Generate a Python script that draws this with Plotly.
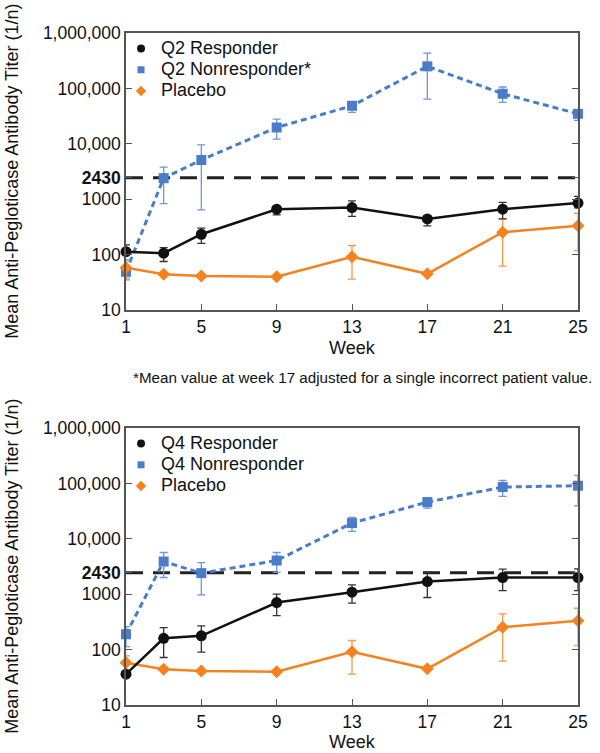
import plotly.graph_objects as go

# ---------------- data ----------------
weeks = [1, 3, 5, 9, 13, 17, 21, 25]
x_ticks = [1, 5, 9, 13, 17, 21, 25]
y_tickvals = [10, 100, 1000, 2430, 10000, 100000, 1000000]
y_ticktext = ["10", "100", "1000", "<b>2430</b>", "10,000", "100,000", "1,000,000"]
threshold = 2430

# Top panel (Q2)
q2_resp = [113, 106, 233, 660, 707, 441, 660, 850]
q2_resp_hi = [150, 134, 300, 700, 930, 500, 880, 1120]
q2_resp_lo = [100, 75, 160, 520, 490, 330, 440, 700]

q2_non = [49, 2400, 5100, 19700, 48600, 250000, 80000, 34800]
q2_non_hi = [80, 3800, 9600, 27900, 56000, 435000, 106000, 40000]
q2_non_lo = [35, 830, 640, 12100, 37000, 64000, 56000, 26400]

# Bottom panel (Q4)
q4_resp = [36, 160, 177, 706, 1086, 1693, 2000, 2000]
q4_resp_hi = [36, 250, 268, 1000, 1475, 2500, 2830, 2870]
q4_resp_lo = [36, 72, 90, 411, 688, 871, 1164, 1164]

q4_non = [189, 3890, 2400, 4060, 19200, 46000, 85900, 90800]
q4_non_hi = [260, 5660, 3730, 5660, 24300, 54300, 113000, 139700]
q4_non_lo = [113, 2000, 973, 2470, 13600, 35800, 58200, 39400]

# Placebo (same in both panels)
placebo = [58, 44, 41, 40, 91, 45, 254, 330]
placebo_hi = [77, 44, 41, 40, 146, 45, 441, 558]
placebo_lo = [38, 44, 41, 40, 36, 45, 62, 118]

panels = [
    dict(resp=(q2_resp, q2_resp_hi, q2_resp_lo), non=(q2_non, q2_non_hi, q2_non_lo),
         names=("Q2 Responder", "Q2 Nonresponder*", "Placebo"), xa="x", ya="y", legend="legend"),
    dict(resp=(q4_resp, q4_resp_hi, q4_resp_lo), non=(q4_non, q4_non_hi, q4_non_lo),
         names=("Q4 Responder", "Q4 Nonresponder", "Placebo"), xa="x2", ya="y2", legend="legend2"),
]

BLACK = "#111111"
BLUE = "#4a7cc9"
BLUE_ERR = "#6e97d8"
ORANGE = "#f5821f"
ORANGE_ERR = "#f59a45"
FONT = "Liberation Sans, Arial, sans-serif"

fig = go.Figure()


def err(mean, hi, lo, color):
    return dict(type="data", symmetric=False,
                array=[h - m for h, m in zip(hi, mean)],
                arrayminus=[m - l for m, l in zip(mean, lo)],
                color=color, thickness=1.3, width=4)


for p in panels:
    xa, ya = p["xa"], p["ya"]
    # threshold dashed line
    fig.add_trace(go.Scatter(x=[weeks[0], weeks[-1]], y=[threshold, threshold], mode="lines",
                             line=dict(color="#222222", width=3, dash="17px,10px"),
                             xaxis=xa, yaxis=ya, showlegend=False, hoverinfo="skip"))
    m, hi, lo = p["non"]
    fig.add_trace(go.Scatter(x=weeks, y=m, mode="lines+markers",
                             line=dict(color=BLUE, width=3, dash="6px,4px"),
                             marker=dict(symbol="square", size=10, color=BLUE),
                             error_y=err(m, hi, lo, BLUE_ERR), cliponaxis=False,
                             xaxis=xa, yaxis=ya, showlegend=False))
    fig.add_trace(go.Scatter(x=weeks, y=placebo, mode="lines+markers",
                             line=dict(color=ORANGE, width=2.5),
                             marker=dict(symbol="diamond", size=10, color=ORANGE),
                             error_y=err(placebo, placebo_hi, placebo_lo, ORANGE_ERR), cliponaxis=False,
                             xaxis=xa, yaxis=ya, showlegend=False))
    m, hi, lo = p["resp"]
    fig.add_trace(go.Scatter(x=weeks, y=m, mode="lines+markers",
                             line=dict(color=BLACK, width=2.5),
                             marker=dict(symbol="circle", size=11, color=BLACK),
                             error_y=err(m, hi, lo, "#333333"), cliponaxis=False,
                             xaxis=xa, yaxis=ya, showlegend=False))
    # legend entries (marker only)
    for name, sym, col, sz in zip(p["names"], ["circle", "square", "diamond"], [BLACK, BLUE, ORANGE], [8, 7, 8]):
        fig.add_trace(go.Scatter(x=[None], y=[None], mode="markers",
                                 name="<span style='font-size:18px'>" + name + "</span>",
                                 marker=dict(symbol=sym, size=sz, color=col),
                                 xaxis=xa, yaxis=ya, legend=p["legend"]))

# layout geometry (pixels)
W, H = 600, 753
ML, MR, MT, MB = 126, 19, 33, 48
PH = H - MT - MB
PW = W - ML - MR


def py(p):
    return (H - MB - p) / PH


def px(p):
    return (p - ML) / PW


axis_common = dict(showline=True, linecolor="#555555", linewidth=1.5, mirror=True,
                   ticks="inside", ticklen=6, tickcolor="#555555", tickwidth=1.2,
                   showgrid=False, zeroline=False,
                   tickfont=dict(size=17.5, color="#111111", family=FONT))

xcommon = dict(axis_common, range=[1, 25], tickvals=x_ticks, mirror=True)
ycommon = dict(axis_common, type="log", range=[1, 6], tickvals=y_tickvals, ticktext=y_ticktext,
               mirror="ticks")

legend_common = dict(bgcolor="rgba(0,0,0,0)", font=dict(size=14, family=FONT, color="#111111"),
                     xanchor="left", yanchor="top", itemsizing="trace", tracegroupgap=0)

fig.update_layout(
    width=W, height=H,
    margin=dict(l=ML, r=MR, t=MT, b=MB),
    paper_bgcolor="white", plot_bgcolor="white",
    font=dict(family=FONT, color="#111111"),
    xaxis=dict(xcommon, domain=[0, 1], anchor="y"),
    yaxis=dict(ycommon, domain=[py(310), 1], anchor="x"),
    xaxis2=dict(xcommon, domain=[0, 1], anchor="y2"),
    yaxis2=dict(ycommon, domain=[0, py(428)], anchor="x2"),
    legend=dict(legend_common, x=px(121), y=py(33)),
    legend2=dict(legend_common, x=px(121), y=py(428)),
    annotations=[
        dict(text="Mean Anti-Pegloticase Antibody Titer (1/n)", textangle=-90, xref="paper", yref="paper",
             x=px(11), y=py(171), xanchor="center", yanchor="middle", showarrow=False,
             font=dict(size=18, family=FONT, color="#111111")),
        dict(text="Mean Anti-Pegloticase Antibody Titer (1/n)", textangle=-90, xref="paper", yref="paper",
             x=px(11), y=py(566), xanchor="center", yanchor="middle", showarrow=False,
             font=dict(size=18, family=FONT, color="#111111")),
        dict(text="Week", xref="x", yref="paper", x=13, y=py(348), xanchor="center", yanchor="middle",
             showarrow=False, font=dict(size=18, family=FONT, color="#111111")),
        dict(text="Week", xref="x2", yref="paper", x=13, y=py(742), xanchor="center", yanchor="middle",
             showarrow=False, font=dict(size=18, family=FONT, color="#111111")),
        dict(text="*Mean value at week 17 adjusted for a single incorrect patient value.", xref="paper",
             yref="paper", x=px(597), y=py(377), xanchor="right", yanchor="middle", showarrow=False,
             font=dict(size=15.2, family=FONT, color="#111111")),
    ],
)

fig.write_html("out.html", config={"displayModeBar": False},
               post_script="document.body.style.margin='0';document.body.style.overflow='hidden';")
